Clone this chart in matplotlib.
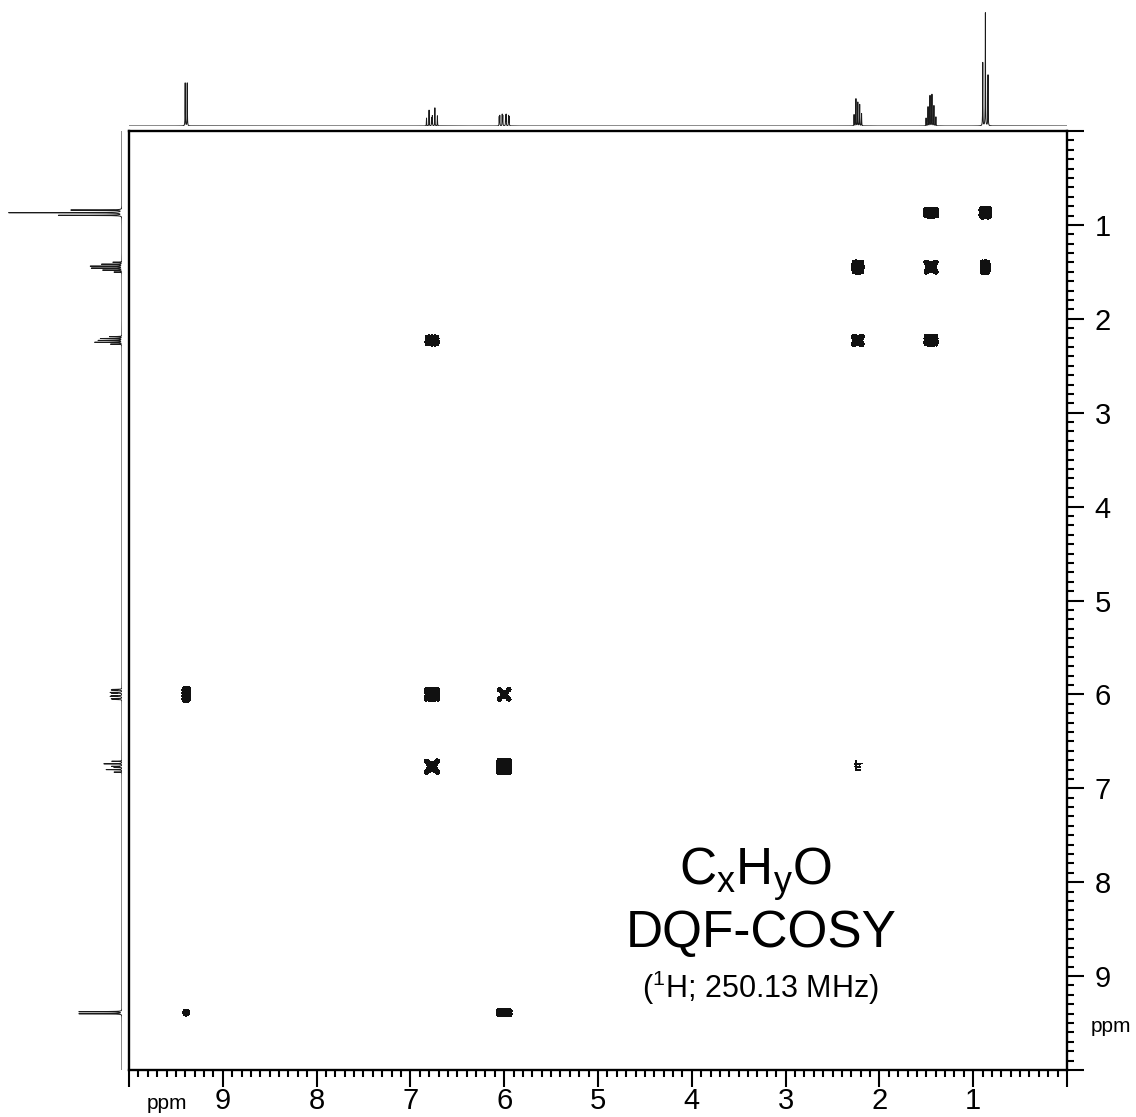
import numpy as np
import matplotlib
matplotlib.use("Agg")
import matplotlib.pyplot as plt
from matplotlib.ticker import FixedLocator, MultipleLocator, FuncFormatter

plt.rcParams["font.family"] = ["Liberation Sans", "DejaVu Sans"]
plt.rcParams["mathtext.fontset"] = "custom"
plt.rcParams["mathtext.rm"] = "Liberation Sans"
plt.rcParams["mathtext.it"] = "Liberation Sans:italic"

# ---- 1D multiplets: centre shift (ppm), line offsets (ppm), line heights ----
cho_shift = 9.39
cho_offsets = [-0.011, 0.011]
cho_heights = [38, 38]

h3_shift = 6.77
h3_offsets = [-0.058, -0.031, -0.004, 0.004, 0.031, 0.058]
h3_heights = [9, 16, 9, 7, 14, 7]

h2_shift = 6.00
h2_offsets = [-0.053, -0.047, -0.021, -0.015, 0.015, 0.021, 0.047, 0.053]
h2_heights = [8, 9, 10, 9, 9, 10, 9, 8]

h4_shift = 2.23
h4_offsets = [-0.040, -0.020, 0.0, 0.020, 0.040]
h4_heights = [11, 19, 21, 24, 10]

h5_shift = 1.45
h5_offsets = [-0.0525, -0.0315, -0.0105, 0.0105, 0.0315, 0.0525]
h5_heights = [8, 18, 28, 27, 17, 7]

h6_shift = 0.87
h6_offsets = [-0.028, 0.0, 0.028]
h6_heights = [45, 100, 56]

# ---- 2D DQF-COSY peaks: F2 shift, F1 shift, amplitude (relative to the contour level) ----
peak_f2 = [0.87, 1.45, 1.45, 2.23, 0.87, 2.23, 6.77, 1.45,
           9.39, 6.77, 6.00, 6.77, 6.00, 2.23, 9.39, 6.00]
peak_f1 = [0.87, 0.87, 1.45, 1.45, 1.45, 2.23, 2.23, 2.23,
           6.00, 6.00, 6.00, 6.77, 6.77, 6.77, 9.39, 9.39]
peak_amp = [400, 45, 30, 18, 18, 25, 4, 18,
            15, 2.5, 1.5, 10, 8, 1.2, 2, 12]

axis_ticks = list(range(0, 11))

multiplets = {
    cho_shift: (cho_offsets, cho_heights),
    h3_shift: (h3_offsets, h3_heights),
    h2_shift: (h2_offsets, h2_heights),
    h4_shift: (h4_offsets, h4_heights),
    h5_shift: (h5_offsets, h5_heights),
    h6_shift: (h6_offsets, h6_heights),
}

W, H = 1136, 1117
fig = plt.figure(figsize=(W / 100, H / 100), dpi=100)


def fx(px):
    return px / W


def fy(py):
    return 1 - py / H


# ---- 1D trace built from Lorentzian lines ----
ppm = np.linspace(0, 10, 50001)
gamma = 0.0015
trace = np.zeros_like(ppm)
for centre, (offs, hts) in multiplets.items():
    for o, h in zip(offs, hts):
        trace += h * gamma ** 2 / ((ppm - (centre + o)) ** 2 + gamma ** 2)

main_l, main_r, main_t, main_b = 129, 1067, 131, 1070
main = fig.add_axes([fx(main_l), fy(main_b), fx(main_r - main_l), (main_b - main_t) / H])

top = fig.add_axes([fx(main_l), fy(126), fx(main_r - main_l), 126 / H])
top.plot(ppm, trace, color="#1a1a1a", lw=0.7)
top.set_xlim(10, 0)
top.set_ylim(0, 100 * 126 / 113)
top.axis("off")

side = fig.add_axes([0, fy(main_b), fx(122), (main_b - main_t) / H])
side.plot(trace, ppm, color="#1a1a1a", lw=0.7)
side.set_ylim(10, 0)
side.set_xlim(100 * 122 / 113, 0)
side.axis("off")

# ---- 2D contour plot (|intensity| above one level, both signs in black) ----
sigma = 0.012
threshold = 0.35


def antiphase_signs(offs):
    # flip sign between resolved neighbouring lines
    signs, s = [], 1
    for k, o in enumerate(offs):
        if k and o - offs[k - 1] > 0.01:
            s = -s
        signs.append(s)
    return signs


def profile(grid, centre, offs, w, antiphase):
    signs = antiphase_signs(offs) if antiphase else [1] * len(offs)
    return np.array([sg * wi * np.exp(-(grid - (centre + o)) ** 2 / (2 * sigma ** 2))
                     for o, wi, sg in zip(offs, w, signs)])


for f2, f1, amp in zip(peak_f2, peak_f1, peak_amp):
    ox, hx = multiplets[f2]
    oy, hy = multiplets[f1]
    wx = np.array(hx, float) / max(hx)
    wy = np.array(hy, float) / max(hy)
    xs = f2 + np.linspace(-0.16, 0.16, 401)
    ys = f1 + np.linspace(-0.16, 0.16, 401)
    diagonal = f2 == f1
    gx = profile(xs, f2, ox, wx, not diagonal)
    gy = profile(ys, f1, oy, wy, not diagonal)
    if diagonal:
        n = len(ox)
        Z = np.zeros((len(ys), len(xs)))
        for i in range(n):
            Z += np.outer(gy[i], gx[i])
            if n - 1 - i != i:
                Z += np.outer(gy[n - 1 - i], gx[i])
    else:
        Z = np.outer(gy.sum(axis=0), gx.sum(axis=0))
    Z = np.abs(amp * Z)
    if Z.max() > threshold:
        main.contourf(xs, ys, Z, levels=[threshold, Z.max() + 1], colors="#111111")

main.set_xlim(10, 0)
main.set_ylim(10, 0)
for s in main.spines.values():
    s.set_linewidth(1.7)

fmt = FuncFormatter(lambda v, p: "" if v in (0, 10) else f"{v:g}")
for axis in (main.xaxis, main.yaxis):
    axis.set_major_locator(FixedLocator(axis_ticks))
    axis.set_minor_locator(MultipleLocator(0.1))
    axis.set_major_formatter(fmt)

main.tick_params(axis="x", which="both", direction="out", bottom=True, top=False,
                 labelbottom=True, width=1.5, labelsize=21, pad=0.5)
main.tick_params(axis="y", which="both", direction="out", left=False, right=True,
                 labelleft=False, labelright=True, width=1.5, labelsize=21, pad=8)
main.tick_params(which="major", length=12)
main.tick_params(which="minor", length=5)

fig.text(fx(167), fy(1109), "ppm", fontsize=15, ha="center", va="baseline")
fig.text(fx(1111), fy(1032), "ppm", fontsize=15, ha="center", va="baseline")

fig.text(fx(756), fy(885), r"C$_\mathregular{x}$H$_\mathregular{y}$O",
         fontsize=37, ha="center", va="baseline")
fig.text(fx(761), fy(947), "DQF-COSY", fontsize=37, ha="center", va="baseline")
fig.text(fx(760), fy(998), r"($^\mathregular{1}$H; 250.13 MHz)",
         fontsize=22, ha="center", va="baseline")

fig.savefig("out.png", dpi=100)
